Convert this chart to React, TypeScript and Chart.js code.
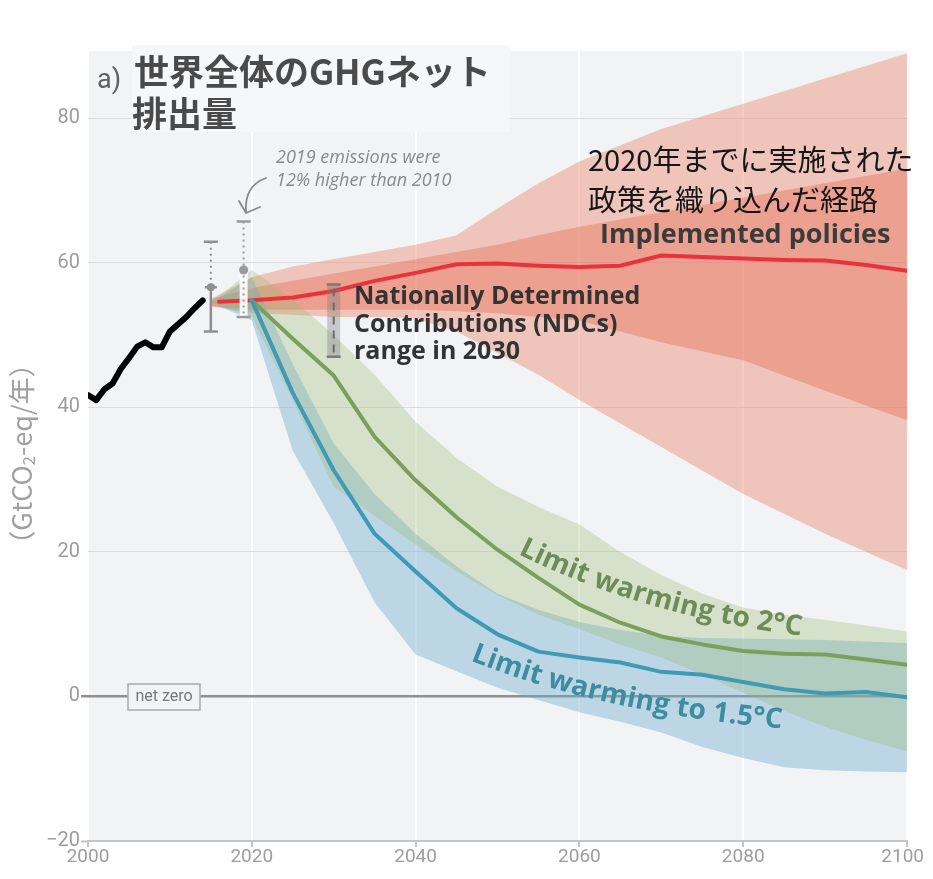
import React, { useEffect, useRef } from "react";
import { Chart, registerables } from "chart.js";

Chart.register(...registerables);

// ---- Historical net GHG emissions (GtCO2-eq/yr) ----
const HIST_YEARS = [2000, 2001, 2002, 2003, 2004, 2005, 2006, 2007, 2008, 2009, 2010, 2011, 2012, 2013, 2014];
const HIST_EMISSIONS = [41.7, 41.0, 42.5, 43.3, 45.3, 46.8, 48.4, 49.0, 48.3, 48.3, 50.5, 51.5, 52.5, 53.7, 54.8];

// ---- Implemented policies pathway ----
const POLICY_YEARS = [2016, 2020, 2025, 2030, 2035, 2040, 2045, 2050, 2055, 2060, 2065, 2070, 2075, 2080, 2085, 2090, 2095, 2100];
const POLICY_MEDIAN = [54.6, 54.8, 55.2, 56.1, 57.5, 58.6, 59.8, 59.9, 59.6, 59.4, 59.6, 61.0, 60.8, 60.6, 60.4, 60.3, 59.7, 58.9];

const POLICY_BAND_YEARS = [2015, 2020, 2025, 2030, 2035, 2040, 2045, 2050, 2055, 2060, 2070, 2080, 2090, 2100];
const POLICY_OUTER_HIGH = [55, 58, 59.5, 60.5, 61.5, 62.5, 63.8, 67.5, 71, 74, 78.5, 82, 85.5, 89];
const POLICY_OUTER_LOW = [54, 53, 52.8, 52.5, 52.5, 52.3, 50.5, 47.5, 44.5, 41, 34.5, 28, 22.5, 17.5];
const POLICY_INNER_HIGH = [55, 56.5, 57.5, 58.5, 59.5, 60.5, 61.5, 62.5, 63.8, 65, 67, 69, 71, 73];
const POLICY_INNER_LOW = [54, 53.5, 53.5, 53.5, 53.5, 53.5, 53.3, 53, 52.5, 52, 49, 46.5, 42.3, 38.2];

// ---- Mitigation pathways ----
const PATHWAY_YEARS = [2020, 2025, 2030, 2035, 2040, 2045, 2050, 2055, 2060, 2065, 2070, 2075, 2080, 2085, 2090, 2095, 2100];
const C2_MEDIAN = [54.8, 49.5, 44.4, 35.9, 29.9, 24.8, 20.3, 16.4, 12.7, 10.2, 8.3, 7.2, 6.3, 5.9, 5.8, 5.1, 4.4];
const C15_MEDIAN = [54.8, 42, 31.3, 22.5, 17.3, 12.2, 8.6, 6.2, 5.4, 4.7, 3.4, 3.0, 2.0, 1.0, 0.4, 0.6, -0.1];

const PATHWAY_BAND_YEARS = [2015, 2020, 2025, 2030, 2035, 2040, 2045, 2050, 2055, 2060, 2065, 2070, 2075, 2080, 2085, 2090, 2095, 2100];
const C2_HIGH = [54.5, 59, 55, 50, 44.5, 38, 33, 29, 26.2, 23.8, 20, 16.8, 14.2, 12.3, 11.3, 10.6, 9.8, 9];
const C2_LOW = [54.5, 52.5, 41, 29, 25, 21, 17.3, 14, 11.3, 9.3, 7.2, 5.4, 3, 0.5, -2, -4.2, -6, -7.6];
const C15_HIGH = [54.5, 58, 46, 35, 28, 22.5, 18, 14.2, 12, 10.3, 9.2, 8.4, 8.1, 8, 7.9, 7.8, 7.6, 7.4];
const C15_LOW = [54.5, 52, 34, 24, 13, 5.8, 3.5, 1.2, -0.5, -2.2, -3.5, -5, -7, -8.5, -9.8, -10.2, -10.4, -10.5];

// ---- Uncertainty ranges of estimated emissions ----
const ESTIMATE_YEARS = [2015, 2019];
const ESTIMATE_LOW = [50.5, 52.5];
const ESTIMATE_MID = [56.6, 59.0];
const ESTIMATE_HIGH = [62.9, 65.7];

// ---- NDC range in 2030 ----
const NDC_YEAR = 2030;
const NDC_LOW = 47;
const NDC_HIGH = 57;

// ---- Axes ----
const X_TICKS = [2000, 2020, 2040, 2060, 2080, 2100];
const Y_TICKS = [-20, 0, 20, 40, 60, 80];

const pts = (xs: number[], ys: number[]) => xs.map((x, i) => ({ x, y: ys[i] }));

const hiddenEdge = (data: { x: number; y: number }[], order: number) => ({
  data,
  borderWidth: 0,
  pointRadius: 0,
  fill: false,
  order,
});

const band = (data: { x: number; y: number }[], color: string, order: number) => ({
  data,
  borderWidth: 0,
  pointRadius: 0,
  fill: "-1",
  backgroundColor: color,
  order,
});

const line = (data: { x: number; y: number }[], color: string, width: number, order: number) => ({
  data,
  borderColor: color,
  borderWidth: width,
  pointRadius: 0,
  fill: false,
  borderJoinStyle: "round",
  borderCapStyle: "round",
  order,
});

function drawCurvedText(
  ctx: CanvasRenderingContext2D,
  text: string,
  p0: number[],
  c: number[],
  p2: number[]
) {
  const N = 400;
  const P: number[][] = [];
  for (let i = 0; i <= N; i++) {
    const t = i / N;
    const u = 1 - t;
    P.push([
      u * u * p0[0] + 2 * u * t * c[0] + t * t * p2[0],
      u * u * p0[1] + 2 * u * t * c[1] + t * t * p2[1],
    ]);
  }
  const acc = [0];
  for (let i = 1; i <= N; i++) {
    acc.push(acc[i - 1] + Math.hypot(P[i][0] - P[i - 1][0], P[i][1] - P[i - 1][1]));
  }
  const total = acc[N];
  const tw = ctx.measureText(text).width;
  const start = (total - tw) / 2;
  ctx.textAlign = "center";
  ctx.textBaseline = "middle";
  const chars = [...text];
  for (let k = 0; k < chars.length; k++) {
    const before = ctx.measureText(chars.slice(0, k).join("")).width;
    const w = ctx.measureText(chars[k]).width;
    const m = start + before + w / 2;
    let idx = 1;
    while (idx < N && acc[idx] < m) idx++;
    const a = P[Math.max(0, idx - 1)];
    const b = P[Math.min(N, idx)];
    const f = (m - acc[idx - 1]) / Math.max(1e-6, acc[idx] - acc[idx - 1]);
    const x = a[0] + (b[0] - a[0]) * f;
    const y = a[1] + (b[1] - a[1]) * f;
    const ang = Math.atan2(b[1] - a[1], b[0] - a[0]);
    ctx.save();
    ctx.translate(x, y);
    ctx.rotate(ang);
    ctx.fillText(chars[k], 0, 0);
    ctx.restore();
  }
}

const backgroundPlugin = {
  id: "plotBackground",
  beforeDraw(chart: any) {
    const { ctx, chartArea: a } = chart;
    ctx.save();
    ctx.fillStyle = "#f2f3f5";
    ctx.fillRect(a.left, a.top, a.right - a.left, a.bottom - a.top);
    ctx.restore();
  },
};

const markersPlugin = {
  id: "rangeMarkers",
  afterDatasetsDraw(chart: any) {
    const { ctx } = chart;
    const xs = chart.scales.x;
    const ys = chart.scales.y;
    ctx.save();

    // 2015 estimate range
    {
      const x = xs.getPixelForValue(ESTIMATE_YEARS[0]);
      const top = ys.getPixelForValue(ESTIMATE_HIGH[0]);
      const mid = ys.getPixelForValue(ESTIMATE_MID[0]);
      const bot = ys.getPixelForValue(ESTIMATE_LOW[0]);
      ctx.strokeStyle = "#8e8e8e";
      ctx.lineWidth = 2;
      ctx.setLineDash([2, 4]);
      ctx.beginPath();
      ctx.moveTo(x, top);
      ctx.lineTo(x, mid);
      ctx.stroke();
      ctx.setLineDash([]);
      ctx.lineWidth = 2.5;
      ctx.beginPath();
      ctx.moveTo(x, mid);
      ctx.lineTo(x, bot);
      ctx.moveTo(x - 7, top);
      ctx.lineTo(x + 7, top);
      ctx.moveTo(x - 7, bot);
      ctx.lineTo(x + 7, bot);
      ctx.moveTo(x - 6, mid);
      ctx.lineTo(x + 6, mid);
      ctx.stroke();
      ctx.fillStyle = "#8e8e8e";
      ctx.beginPath();
      ctx.arc(x, mid, 4, 0, Math.PI * 2);
      ctx.fill();
    }

    // 2019 estimate range
    {
      const x = xs.getPixelForValue(ESTIMATE_YEARS[1]);
      const top = ys.getPixelForValue(ESTIMATE_HIGH[1]);
      const mid = ys.getPixelForValue(ESTIMATE_MID[1]);
      const bot = ys.getPixelForValue(ESTIMATE_LOW[1]);
      ctx.fillStyle = "rgba(255,255,255,0.9)";
      ctx.fillRect(x - 4, mid, 8, bot - mid);
      ctx.strokeStyle = "#9a9a9a";
      ctx.lineWidth = 2;
      ctx.setLineDash([2, 4]);
      ctx.beginPath();
      ctx.moveTo(x, top);
      ctx.lineTo(x, bot);
      ctx.stroke();
      ctx.setLineDash([]);
      ctx.lineWidth = 2.5;
      ctx.beginPath();
      ctx.moveTo(x - 7, top);
      ctx.lineTo(x + 7, top);
      ctx.moveTo(x - 7, bot);
      ctx.lineTo(x + 7, bot);
      ctx.stroke();
      ctx.fillStyle = "#9a9a9a";
      ctx.beginPath();
      ctx.arc(x, mid, 4.5, 0, Math.PI * 2);
      ctx.fill();
    }

    // NDC range bar
    {
      const x = xs.getPixelForValue(NDC_YEAR);
      const top = ys.getPixelForValue(NDC_HIGH);
      const bot = ys.getPixelForValue(NDC_LOW);
      ctx.fillStyle = "rgba(120,120,120,0.35)";
      ctx.fillRect(x - 6.5, top, 13, bot - top);
      ctx.strokeStyle = "#6b6b6b";
      ctx.lineWidth = 2;
      ctx.setLineDash([8, 6]);
      ctx.beginPath();
      ctx.moveTo(x, top + 4);
      ctx.lineTo(x, bot - 4);
      ctx.stroke();
      ctx.setLineDash([]);
      ctx.strokeStyle = "#7a7a7a";
      ctx.lineWidth = 2.5;
      ctx.beginPath();
      ctx.moveTo(x - 7, top);
      ctx.lineTo(x + 7, top);
      ctx.moveTo(x - 7, bot);
      ctx.lineTo(x + 7, bot);
      ctx.stroke();
    }
    ctx.restore();
  },
};

const labelsPlugin = {
  id: "textLabels",
  afterDraw(chart: any) {
    const { ctx, chartArea } = chart;
    const xs = chart.scales.x;
    ctx.save();

    // x-axis year labels (last one kept inside the canvas)
    ctx.fillStyle = "#9d9d9d";
    ctx.font = "19px Roboto";
    ctx.textAlign = "left";
    ctx.textBaseline = "top";
    for (const v of X_TICKS) {
      const label = String(v);
      const w = ctx.measureText(label).width;
      const px = xs.getPixelForValue(v);
      const left = Math.min(px - w / 2, chart.width - w - 1);
      ctx.fillText(label, left, chartArea.bottom + 7);
    }

    // title block
    ctx.fillStyle = "#f6f7f8";
    ctx.fillRect(124, 37, 378, 87);
    ctx.fillStyle = "#5f5f5f";
    ctx.font = '27px Roboto';
    ctx.textAlign = "left";
    ctx.textBaseline = "alphabetic";
    ctx.fillText("a)", 89, 80);
    ctx.fillStyle = "#4a4a4a";
    ctx.font = 'bold 35px "Noto Sans CJK JP"';
    ctx.textBaseline = "middle";
    ctx.fillText("世界全体のGHGネット", 126, 64);
    ctx.fillText("排出量", 124, 106);

    // y-axis title
    ctx.save();
    ctx.translate(14, 446);
    ctx.rotate(-Math.PI / 2);
    ctx.fillStyle = "#a0a0a0";
    const big = '27px "Noto Sans CJK JP"';
    const small = '17px "Noto Sans CJK JP"';
    const segs = [
      { t: "（GtCO", f: big, dy: 0 },
      { t: "2", f: small, dy: 7 },
      { t: "-eq/年）", f: big, dy: 0 },
    ];
    let total = 0;
    for (const s of segs) {
      ctx.font = s.f;
      total += ctx.measureText(s.t).width;
    }
    let cx = -total / 2;
    ctx.textBaseline = "middle";
    ctx.textAlign = "left";
    for (const s of segs) {
      ctx.font = s.f;
      ctx.fillText(s.t, cx, s.dy);
      cx += ctx.measureText(s.t).width;
    }
    ctx.restore();

    // 2019 note with arrow
    ctx.fillStyle = "#8a8a8a";
    ctx.font = 'italic 18px "Open Sans"';
    ctx.textAlign = "left";
    ctx.textBaseline = "middle";
    ctx.fillText("2019 emissions were", 268, 150);
    ctx.fillText("12% higher than 2010", 268, 173);
    ctx.strokeStyle = "#8a8a8a";
    ctx.lineWidth = 1.8;
    ctx.lineCap = "round";
    ctx.lineJoin = "round";
    ctx.beginPath();
    ctx.moveTo(258, 170);
    ctx.quadraticCurveTo(236, 178, 238, 204);
    ctx.moveTo(231, 193);
    ctx.lineTo(238, 205);
    ctx.lineTo(252, 199);
    ctx.stroke();

    // implemented policies labels
    ctx.fillStyle = "#161616";
    ctx.font = '29px "Noto Sans CJK JP"';
    ctx.fillText("2020年までに実施された", 580, 152);
    ctx.fillText("政策を織り込んだ経路", 580, 192);
    ctx.fillStyle = "#3b3b3b";
    ctx.font = 'bold 27px "Open Sans"';
    ctx.textBaseline = "alphabetic";
    ctx.fillText("Implemented policies", 592, 235);

    // NDC label
    ctx.fillStyle = "#333333";
    ctx.font = 'bold 25px "Open Sans"';
    ctx.textBaseline = "middle";
    ctx.fillText("Nationally Determined", 346, 289);
    ctx.fillText("Contributions (NDCs)", 346, 317);
    ctx.fillText("range in 2030", 346, 344);

    // net zero tag
    ctx.fillStyle = "#f2f3f5";
    ctx.fillRect(120, 676, 72, 26);
    ctx.strokeStyle = "#a9a9a9";
    ctx.lineWidth = 1.5;
    ctx.strokeRect(120, 676, 72, 26);
    ctx.fillStyle = "#777777";
    ctx.font = '16px Roboto';
    ctx.textAlign = "center";
    ctx.fillText("net zero", 156, 689);

    // pathway labels
    ctx.font = 'bold 28px "Open Sans"';
    ctx.fillStyle = "#6f8b56";
    drawCurvedText(ctx, "Limit warming to 2°C", [512, 538], [636, 600], [796, 620]);
    ctx.fillStyle = "#3b8d9f";
    drawCurvedText(ctx, "Limit warming to 1.5°C", [460, 643], [593, 697], [780, 713]);

    ctx.restore();
  },
};

export default function App() {
  const ref = useRef<HTMLCanvasElement | null>(null);

  useEffect(() => {
    if (!ref.current) return;
    const chart = new Chart(ref.current, {
      type: "line",
      data: {
        datasets: [
          hiddenEdge(pts(POLICY_BAND_YEARS, POLICY_OUTER_LOW), 10),
          band(pts(POLICY_BAND_YEARS, POLICY_OUTER_HIGH), "rgba(236,130,105,0.42)", 10),
          hiddenEdge(pts(POLICY_BAND_YEARS, POLICY_INNER_LOW), 9),
          band(pts(POLICY_BAND_YEARS, POLICY_INNER_HIGH), "rgba(232,110,85,0.42)", 9),
          hiddenEdge(pts(PATHWAY_BAND_YEARS, C15_LOW), 8),
          band(pts(PATHWAY_BAND_YEARS, C15_HIGH), "rgba(110,170,205,0.4)", 8),
          hiddenEdge(pts(PATHWAY_BAND_YEARS, C2_LOW), 7),
          band(pts(PATHWAY_BAND_YEARS, C2_HIGH), "rgba(150,185,110,0.3)", 7),
          line(pts(POLICY_YEARS, POLICY_MEDIAN), "#e8333a", 4, 6),
          line(pts(PATHWAY_YEARS, C2_MEDIAN), "#7ba05b", 4, 5),
          line(pts(PATHWAY_YEARS, C15_MEDIAN), "#3f9ab3", 4, 4),
          line(pts(HIST_YEARS, HIST_EMISSIONS), "#000000", 6, 3),
        ] as any,
      },
      options: {
        animation: false,
        responsive: true,
        maintainAspectRatio: false,
        events: [],
        layout: { padding: { top: 43, right: 18, left: 0, bottom: 0 } },
        elements: { line: { tension: 0 } },
        plugins: {
          legend: { display: false },
          tooltip: { enabled: false },
          filler: { drawTime: "beforeDatasetDraw" },
        },
        scales: {
          x: {
            type: "linear",
            min: 2000,
            max: 2100,
            afterBuildTicks: (s: any) => {
              s.ticks = X_TICKS.map((v) => ({ value: v }));
            },
            afterFit: (s: any) => {
              s.height = 30;
              s.paddingLeft = 0;
              s.paddingRight = 0;
            },
            ticks: { display: false },
            grid: {
              color: "#ffffff",
              lineWidth: 2,
              tickLength: 6,
              tickColor: "#c4c4c4",
              tickWidth: 2,
            },
            border: { display: true, color: "#c4c4c4", width: 2 },
          },
          y: {
            type: "linear",
            min: -20,
            max: 89.3,
            afterBuildTicks: (s: any) => {
              s.ticks = Y_TICKS.map((v) => ({ value: v }));
            },
            afterFit: (s: any) => {
              s.width = 80;
              s.paddingTop = 0;
              s.paddingBottom = 0;
            },
            ticks: {
              color: "#9d9d9d",
              font: { family: "Roboto", size: 20 },
              padding: 1,
              callback: (v: any) => (v < 0 ? "\u2212" + Math.abs(v) : String(v)),
            },
            grid: {
              color: (c: any) =>
                c.tick && c.tick.value === 0
                  ? "#8f8f8f"
                  : c.tick && c.tick.value === -20
                  ? "rgba(0,0,0,0)"
                  : "#dcdde0",
              lineWidth: (c: any) => (c.tick && c.tick.value === 0 ? 2.5 : 1),
              tickLength: 7,
              tickColor: (c: any) =>
                c.tick && c.tick.value === 0
                  ? "#8f8f8f"
                  : c.tick && c.tick.value === -20
                  ? "#c4c4c4"
                  : "rgba(0,0,0,0)",
              tickWidth: (c: any) => (c.tick && c.tick.value === 0 ? 2.5 : 2),
            },
            border: { display: false },
          },
        },
      } as any,
      plugins: [backgroundPlugin, markersPlugin, labelsPlugin],
    });
    return () => chart.destroy();
  }, []);

  return (
    <div style={{ width: 917, height: 863, position: "relative" }}>
      <canvas ref={ref} />
    </div>
  );
}
